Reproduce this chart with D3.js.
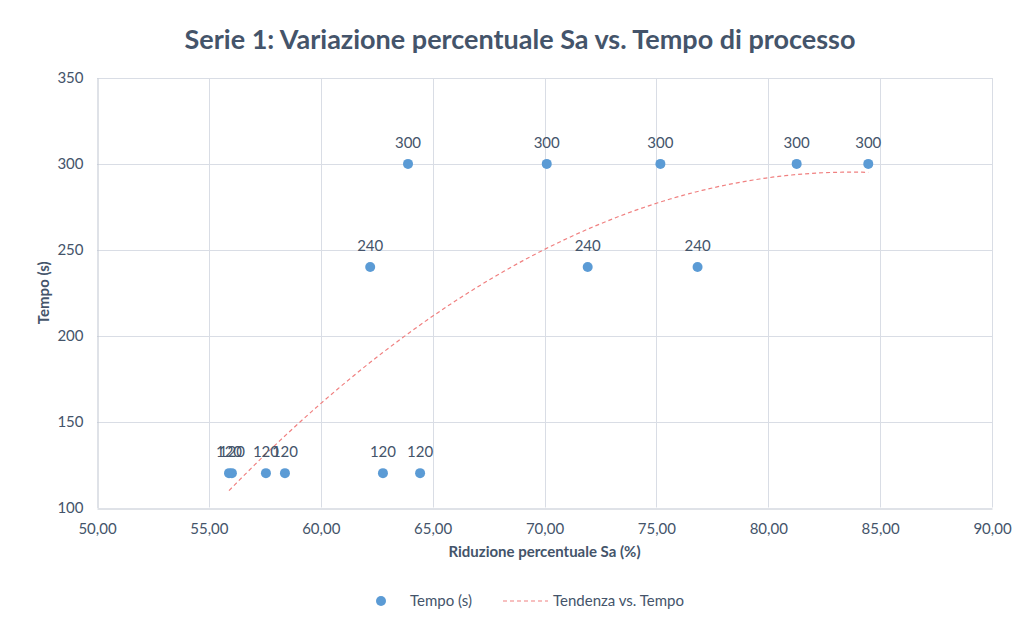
<!DOCTYPE html>
<html>
<head>
<meta charset="utf-8">
<script src="https://cdn.jsdelivr.net/npm/d3@7"></script>
<style>
  html, body { margin: 0; padding: 0; background: #fff; }
  svg { display: block; font-family: Lato, "Open Sans", sans-serif; }
</style>
</head>
<body>
<svg id="chart" width="1022" height="622"></svg>
<script>
// Percentage reduction of Sa (%) for each sample
const riduzione = [55.90, 56.03, 57.55, 58.40, 62.78, 64.44,
                   62.21, 71.93, 76.84,
                   63.90, 70.10, 75.18, 81.27, 84.47];
// Process time (s) for each sample
const tempo = [120, 120, 120, 120, 120, 120,
               240, 240, 240,
               300, 300, 300, 300, 300];

const xTicks = [50, 55, 60, 65, 70, 75, 80, 85, 90];
const yTicks = [100, 150, 200, 250, 300, 350];

const titleText = "Serie 1: Variazione percentuale Sa vs. Tempo di processo";
const xTitle = "Riduzione percentuale Sa (%)";
const yTitle = "Tempo (s)";
const legendLabels = ["Tempo (s)", "Tendenza vs. Tempo"];

const svg = d3.select("#chart");
const FONT = "Lato, 'Open Sans', sans-serif";

const x = d3.scaleLinear().domain([50, 90]).range([97, 992]);
const y = d3.scaleLinear().domain([100, 350]).range([507.5, 78]);

const textColor = "#44546A";
const gridColor = "#D9DDE5";
const dotColor = "#5B9BD5";
const trendColor = "#F08080";

// Gridlines
svg.append("g").selectAll("line").data(yTicks.slice(1)).join("line")
  .attr("x1", x(50)).attr("x2", x(90))
  .attr("y1", d => Math.round(y(d)) + 0.5).attr("y2", d => Math.round(y(d)) + 0.5)
  .attr("stroke", gridColor).attr("stroke-width", 1);
svg.append("g").selectAll("line").data(xTicks.slice(1)).join("line")
  .attr("y1", y(100)).attr("y2", y(350))
  .attr("x1", d => Math.round(x(d)) + 0.5).attr("x2", d => Math.round(x(d)) + 0.5)
  .attr("stroke", gridColor).attr("stroke-width", 1);

// Axes
const fmt = d => d3.format(".2f")(d).replace(".", ",");
const xAxis = svg.append("g")
  .attr("transform", `translate(0,${Math.round(y(100)) + 0.5})`)
  .call(d3.axisBottom(x).tickValues(xTicks).tickSize(0).tickPadding(15).tickFormat(fmt));
const yAxis = svg.append("g")
  .attr("transform", `translate(${Math.round(x(50)) + 0.5},0)`)
  .call(d3.axisLeft(y).tickValues(yTicks).tickSize(0).tickPadding(14).tickFormat(d3.format("d")));
[xAxis, yAxis].forEach(a => {
  a.attr("font-family", FONT).attr("font-size", 15);
  a.select(".domain").attr("stroke", "#BFC5D0");
  a.selectAll("text").attr("fill", textColor);
});

// Quadratic trend fitted to the samples (least squares)
function polyFit2(xs, ys) {
  const n = xs.length;
  const s = [0, 0, 0, 0, 0], t = [0, 0, 0];
  for (let i = 0; i < n; i++) {
    let p = 1;
    for (let k = 0; k <= 4; k++) { s[k] += p; if (k <= 2) t[k] += p * ys[i]; p *= xs[i]; }
  }
  const A = [[s[0], s[1], s[2], t[0]], [s[1], s[2], s[3], t[1]], [s[2], s[3], s[4], t[2]]];
  for (let i = 0; i < 3; i++) {
    for (let j = i + 1; j < 3; j++) {
      const f = A[j][i] / A[i][i];
      for (let k = i; k < 4; k++) A[j][k] -= f * A[i][k];
    }
  }
  const c = [0, 0, 0];
  for (let i = 2; i >= 0; i--) {
    let v = A[i][3];
    for (let k = i + 1; k < 3; k++) v -= A[i][k] * c[k];
    c[i] = v / A[i][i];
  }
  return c;
}
const coef = polyFit2(riduzione, tempo);
const xMin = d3.min(riduzione), xMax = d3.max(riduzione);
const trendPts = d3.range(0, 101).map(i => {
  const xv = xMin + (xMax - xMin) * i / 100;
  return [xv, coef[0] + coef[1] * xv + coef[2] * xv * xv];
});
svg.append("path")
  .attr("d", d3.line().x(d => x(d[0])).y(d => y(d[1]))(trendPts))
  .attr("fill", "none").attr("stroke", trendColor).attr("stroke-width", 1.2)
  .attr("stroke-dasharray", "4,3");

// Points with value labels
const pts = riduzione.map((r, i) => ({ r, t: tempo[i] }));
svg.append("g").selectAll("circle").data(pts).join("circle")
  .attr("cx", d => x(d.r)).attr("cy", d => y(d.t)).attr("r", 5)
  .attr("fill", dotColor);
svg.append("g").selectAll("text").data(pts).join("text")
  .attr("x", d => x(d.r)).attr("y", d => y(d.t) - 16)
  .attr("text-anchor", "middle").attr("fill", textColor).attr("font-size", 15)
  .text(d => d.t);

// Titles
svg.append("text").attr("x", 520).attr("y", 49).attr("text-anchor", "middle")
  .attr("fill", textColor).attr("font-size", 27).attr("font-weight", "bold")
  .text(titleText);
svg.append("text").attr("x", x(70)).attr("y", 557).attr("text-anchor", "middle")
  .attr("fill", textColor).attr("font-size", 15).attr("font-weight", "bold")
  .text(xTitle);
svg.append("text").attr("transform", `translate(49,${y(225)}) rotate(-90)`)
  .attr("text-anchor", "middle").attr("fill", textColor).attr("font-size", 15)
  .attr("font-weight", "bold").text(yTitle);

// Legend
const lg = svg.append("g");
lg.append("circle").attr("cx", 381).attr("cy", 601).attr("r", 5).attr("fill", dotColor);
lg.append("text").attr("x", 410).attr("y", 606).attr("fill", textColor).attr("font-size", 15)
  .text(legendLabels[0]);
lg.append("line").attr("x1", 503).attr("x2", 548).attr("y1", 601).attr("y2", 601)
  .attr("stroke", trendColor).attr("stroke-width", 1.2).attr("stroke-dasharray", "4,3");
lg.append("text").attr("x", 553).attr("y", 606).attr("fill", textColor).attr("font-size", 15)
  .text(legendLabels[1]);
</script>
</body>
</html>
